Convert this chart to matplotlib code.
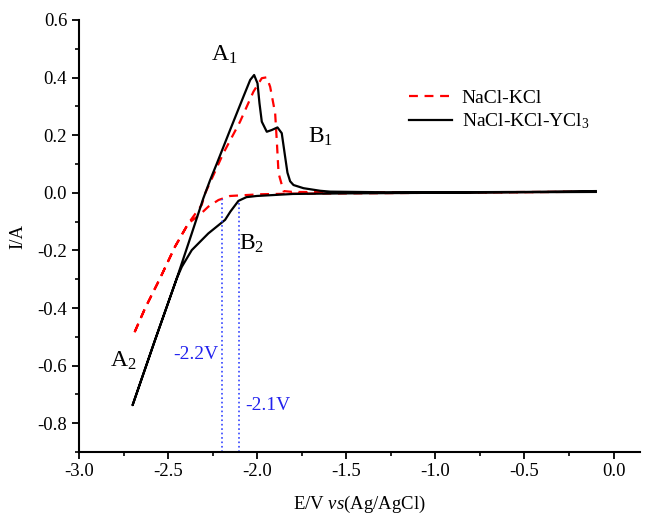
import matplotlib
matplotlib.use("Agg")
import matplotlib.pyplot as plt
from matplotlib.ticker import MultipleLocator, FormatStrFormatter

plt.rcParams['font.family'] = ['Liberation Serif', 'DejaVu Serif']
plt.rcParams['mathtext.fontset'] = 'custom'
plt.rcParams['mathtext.rm'] = 'Liberation Serif'
plt.rcParams['mathtext.it'] = 'Liberation Serif:italic'

# NaCl-KCl (linea roja discontinua): barrido catodico y luego anodico
e_nacl = [-0.10, -0.5, -1.0, -1.5, -1.80, -1.98, -2.152, -2.217, -2.274, -2.32,
          -2.386, -2.461, -2.545, -2.629, -2.695,
          -2.629, -2.545, -2.461, -2.386, -2.311, -2.292, -2.19, -2.096,
          -2.021, -1.974, -1.946, -1.927, -1.899, -1.889, -1.88, -1.852, -1.80,
          -1.6, -1.2, -0.8, -0.4, -0.10]
i_nacl = [0.004, 0.002, 0.0, -0.002, -0.003, -0.005, -0.011, -0.025, -0.048, -0.075,
          -0.106, -0.187, -0.297, -0.401, -0.494,
          -0.401, -0.297, -0.187, -0.106, -0.042, -0.002, 0.137, 0.247,
          0.351, 0.398, 0.401, 0.368, 0.276, 0.172, 0.068, 0.006, 0.003,
          0.002, 0.002, 0.002, 0.003, 0.005]

# NaCl-KCl-YCl3 (linea negra continua)
e_ycl = [-0.10, -0.5, -1.0, -1.5, -1.80, -2.002, -2.06, -2.105, -2.15, -2.18, -2.274,
         -2.367, -2.423, -2.451, -2.573, -2.699,
         -2.573, -2.451, -2.367, -2.302, -2.264, -2.226, -2.152, -2.077, -2.039,
         -2.017, -1.998, -1.987, -1.974, -1.946, -1.918, -1.886, -1.862, -1.843,
         -1.830, -1.815, -1.796, -1.74, -1.646, -1.59, -1.3, -0.9, -0.5, -0.10]
i_ycl = [0.003, 0.002, 0.0, -0.002, -0.004, -0.011, -0.015, -0.028, -0.065, -0.094, -0.141,
         -0.199, -0.257, -0.297, -0.511, -0.737,
         -0.511, -0.297, -0.141, -0.019, 0.044, 0.102, 0.218, 0.334, 0.392,
         0.409, 0.380, 0.311, 0.247, 0.212, 0.218, 0.227, 0.207, 0.125,
         0.070, 0.040, 0.027, 0.016, 0.007, 0.004, 0.002, 0.002, 0.003, 0.006]

# lineas de referencia azules
v_marks = [-2.2, -2.1]
v_tops = [-0.02, -0.035]
v_texts = ['-2.2V', '-2.1V']

fig = plt.figure(figsize=(6.5, 5.14), dpi=100)
ax = fig.add_axes([0.1215, 0.1206, 0.8635, 0.8405])

ax.plot(e_nacl, i_nacl, color='red', linestyle='--', linewidth=1.6,
        dashes=(4, 3), label='NaCl-KCl')
ax.plot(e_ycl, i_ycl, color='black', linewidth=1.6,
        label=r'NaCl-KCl-YCl$\mathregular{_3}$')

for v, top in zip(v_marks, v_tops):
    ax.plot([v, v], [-0.9, top], color='#3344ff', linestyle=':', linewidth=1.2)

ax.text(-2.215, -0.56, v_texts[0], color='#2222ee', fontsize=14, ha='right', va='center')
ax.text(-2.065, -0.737, v_texts[1], color='#2222ee', fontsize=14, ha='left', va='center')

# etiquetas de los picos
ax.text(-2.185, 0.478, r'A$\mathregular{_1}$', fontsize=17, ha='center', va='center')
ax.text(-1.646, 0.195, r'B$\mathregular{_1}$', fontsize=17, ha='center', va='center')
ax.text(-2.03, -0.178, r'B$\mathregular{_2}$', fontsize=17, ha='center', va='center')
ax.text(-2.75, -0.585, r'A$\mathregular{_2}$', fontsize=17, ha='center', va='center')

ax.set_xlim(-3.0, 0.15)
ax.set_ylim(-0.9, 0.6)
ax.xaxis.set_minor_locator(MultipleLocator(0.25))
ax.yaxis.set_minor_locator(MultipleLocator(0.1))
ax.set_xticks([-3.0, -2.5, -2.0, -1.5, -1.0, -0.5, 0.0])
ax.set_yticks([-0.8, -0.6, -0.4, -0.2, 0.0, 0.2, 0.4, 0.6])
ax.xaxis.set_major_formatter(FormatStrFormatter('%.1f'))
ax.yaxis.set_major_formatter(FormatStrFormatter('%.1f'))

ax.spines['top'].set_visible(False)
ax.spines['right'].set_visible(False)
ax.spines['left'].set_linewidth(1.5)
ax.spines['bottom'].set_linewidth(1.5)
ax.tick_params(which='major', direction='out', length=5, width=1.3, labelsize=13.5)
ax.tick_params(which='minor', direction='out', length=3, width=1.2)
ax.tick_params(axis='x', pad=3)

ax.set_xlabel(r'E/V $\it{vs}$(Ag/AgCl)', fontsize=13.5, labelpad=10)
ax.set_ylabel('I/A', fontsize=13.5, labelpad=8)

ax.legend(loc='upper left', bbox_to_anchor=(0.557, 0.881), frameon=False,
          fontsize=14, handlelength=2.2, handletextpad=0.5, labelspacing=0.25)

fig.savefig('out.png', dpi=100)
